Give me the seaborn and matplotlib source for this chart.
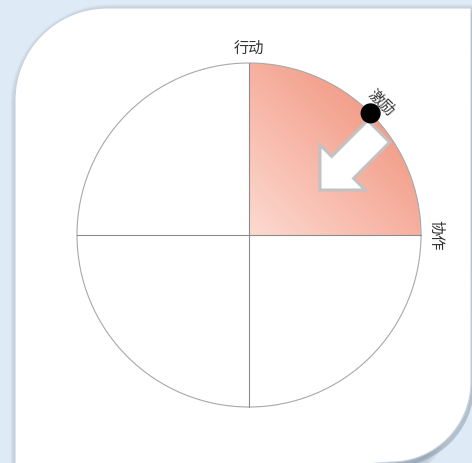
import numpy as np
import matplotlib
matplotlib.use("Agg")
import matplotlib.pyplot as plt
import seaborn as sns
from matplotlib.patches import Wedge, Circle, PathPatch, Polygon
from matplotlib.path import Path
from matplotlib.colors import LinearSegmentedColormap

# ---- data ----
categories = ["协作", "激励", "行动"]
category_angles = [0, 45, 90]
sector_start = 0
sector_end = 90
sector_radius = 1.0
point_category = "激励"
point_radius = 1.0

sns.set_theme(style="white")
plt.rcParams['font.family'] = ['Noto Sans CJK SC', 'DejaVu Sans']

W, H = 472, 463
fig = plt.figure(figsize=(W / 100, H / 100), dpi=100)
fig.patch.set_facecolor('#deeaf6')

# ---- background card (pixel coords) ----
bg = fig.add_axes([0, 0, 1, 1])
bg.set_xlim(0, W)
bg.set_ylim(H, 0)
bg.axis('off')


def card_path(dx=0.0, dy=0.0):
    L, T, R, B = 15 + dx, 8 + dy, 471 + dx, 462 + dy
    r1, r2, k = 92, 80, 0.5523
    verts = [(L + r1, T), (R, T), (R, B - r2),
             (R, B - r2 + k * r2), (R - r2 + k * r2, B), (R - r2, B),
             (L, B + 30), (L, T + r1),
             (L, T + r1 - k * r1), (L + r1 - k * r1, T), (L + r1, T),
             (L + r1, T)]
    codes = [Path.MOVETO, Path.LINETO, Path.LINETO,
             Path.CURVE4, Path.CURVE4, Path.CURVE4,
             Path.LINETO, Path.LINETO,
             Path.CURVE4, Path.CURVE4, Path.CURVE4,
             Path.CLOSEPOLY]
    return Path(verts, codes)


for i in range(10):
    bg.add_patch(PathPatch(card_path(4, 5), facecolor='none', edgecolor='#7d8c9a',
                           lw=1 + i * 1.3, alpha=0.06, joinstyle='round'))
bg.add_patch(PathPatch(card_path(3, 4), facecolor='#8e9cab', edgecolor='none', alpha=0.55))
bg.add_patch(PathPatch(card_path(), facecolor='white', edgecolor='#c9d2db', lw=0.8))

# ---- chart axes (data coords, radius 1) ----
cx, cy, rp = 249, 235, 172
ax = fig.add_axes([0, 0, 1, 1])
ax.set_xlim(-cx / rp, (W - cx) / rp)
ax.set_ylim(-(H - cy) / rp, cy / rp)
ax.set_aspect('equal')
ax.axis('off')
ax.patch.set_alpha(0)

# gradient sector
cmap = LinearSegmentedColormap.from_list('g', ['#fddad1', '#f39f8b'])
g = np.linspace(0, 1, 300)
X, Y = np.meshgrid(g, g)
T = np.clip((X + Y) / np.sqrt(2), 0, 1)
wedge = Wedge((0, 0), sector_radius, sector_start, sector_end, facecolor='none', edgecolor='none')
ax.add_patch(wedge)
im = ax.imshow(T, extent=[0, sector_radius, 0, sector_radius], origin='lower', cmap=cmap,
               vmin=0, vmax=1, zorder=1, interpolation='bilinear')
im.set_clip_path(wedge)

# circle and cross lines
ax.add_patch(Circle((0, 0), 1, fill=False, edgecolor='#a8a8a8', lw=0.8, zorder=2))
ax.plot([-1, 1], [0, 0], color='#8c8c8c', lw=0.8, zorder=2)
ax.plot([0, 0], [-1, 1], color='#8c8c8c', lw=0.8, zorder=2)

# labels
lr = 1 + 15 / rp
for cat, ang in zip(categories, category_angles):
    a = np.deg2rad(ang)
    ax.text(lr * np.cos(a), lr * np.sin(a), cat, rotation=ang - 90,
            ha='center', va='center', fontsize=11, color='#333333', zorder=5,
            rotation_mode='anchor')

# arrow (pixel-scale geometry relative to center, y up)
pa = np.deg2rad(category_angles[categories.index(point_category)])
u = -np.array([np.cos(pa), np.sin(pa)])
n = np.array([np.sin(pa), -np.cos(pa)])
D = point_radius * rp * np.array([np.cos(pa), np.sin(pa)])
S = D + u * 7 + n * 18.4
Bm = S + u * 51
Tp = Bm + u * 32
hs, hh = 15.5, 32
pts = np.array([S + n * hs, Bm + n * hs, Bm + n * hh, Tp, Bm - n * hh, Bm - n * hs, S - n * hs]) / rp
ax.add_patch(Polygon(pts, closed=True, facecolor='white', edgecolor='#c2c2c2', lw=2.2,
                     joinstyle='miter', zorder=3))

# point
sns.scatterplot(x=[point_radius * np.cos(pa)], y=[point_radius * np.sin(pa)], ax=ax,
                s=210, color='black', edgecolor='none', zorder=4, legend=False)

fig.savefig('out.png', dpi=100, facecolor=fig.get_facecolor())
